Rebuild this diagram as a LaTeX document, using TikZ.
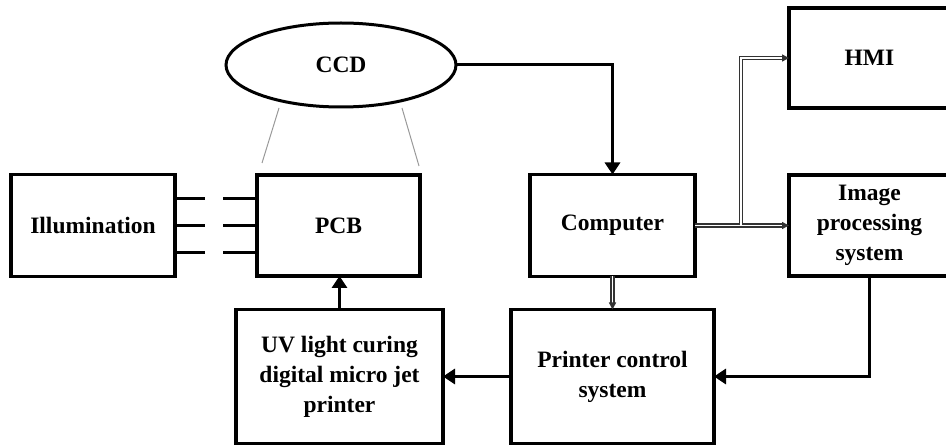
\documentclass[tikz,border=0pt]{standalone}
\usepackage{fontspec}
\setmainfont{Liberation Serif}
\usetikzlibrary{positioning,arrows.meta,shapes,calc}
\tikzset{
  block/.style={draw=black, line width=3.5pt, outer sep=0pt, inner sep=0pt, align=center,
    font=\bfseries\fontsize{23.5}{30}\selectfont},
  link/.style={draw=black, line width=3pt, -{Triangle[length=12pt,width=15pt]}},
  dlink/.style={draw=black!80, double=white, double distance=1.6pt, line width=1.4pt,
    -{Triangle[length=7pt,width=7pt]}},
  beam/.style={draw=black, line width=3.5pt},
  view/.style={draw=gray!80, line width=1pt}
}

\begin{document}
\begin{tikzpicture}[x=1pt,y=1pt,node distance=68pt and 82pt]
  \useasboundingbox (0,0) rectangle (946,445);
  \node[block, minimum width=163pt, minimum height=101pt] (pcb) at (338.5,219.5) {PCB};
  \node[block, minimum width=164pt, minimum height=102pt, left=82pt of pcb] (ill) {Illumination};
  \node[block, ellipse, line width=3pt, minimum width=230pt, minimum height=84pt,
    above=68pt of pcb, xshift=2.5pt] (ccd) {CCD};
  \node[block, minimum width=165pt, minimum height=102pt, right=110pt of pcb] (cpu) {Computer};
  \node[block, minimum width=203pt, minimum height=134pt, below=33pt of cpu] (pcs) {Printer control\\system};
  \node[block, minimum width=207pt, minimum height=134pt, left=68pt of pcs] (uvp) {UV light curing\\digital micro jet\\printer};
  \node[block, minimum width=161pt, minimum height=101pt, right=94pt of cpu] (ips) {Image\\processing\\system};
  \node[block, minimum width=161pt, minimum height=100pt, above=67pt of ips] (hmi) {HMI};
  \coordinate (br) at ($(cpu.east)+(46,0)$);

  % light to the board
  \foreach \d in {-27,0,27} {
    \draw[beam] ($(ill.east)+(0,\d)$) -- ++(30,0);
    \draw[beam] ($(pcb.west)+(0,\d)$) -- ++(-34,0);
  }
  % field of view
  \draw[view] ($(ccd.south)+(-62,-1)$) -- ($(pcb.north west)+(5,12)$);
  \draw[view] ($(ccd.south)+(61,-1)$) -- ($(pcb.north east)+(-1,9)$);

  \draw[link]  (ccd) -| (cpu);
  \draw[dlink] (cpu) -- (ips);
  \draw[dlink] (br) |- (hmi);
  \draw[dlink] (cpu) -- (pcs);
  \draw[link]  (ips) |- (pcs);
  \draw[link]  (pcs) -- (uvp);
  \draw[link]  (uvp.north) -- (uvp.north |- pcb.south);
\end{tikzpicture}
\end{document}
